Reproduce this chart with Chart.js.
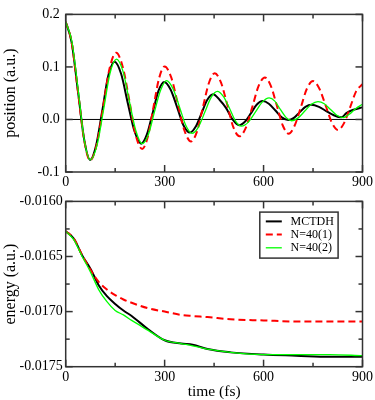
<!DOCTYPE html>
<html>
<head>
<meta charset="utf-8">
<script src="https://cdn.jsdelivr.net/npm/chart.js@4.4.0/dist/chart.umd.min.js"></script>
<style>
body { margin: 0; background: #fff; }
canvas { position: absolute; left: 0; }
#top { top: 0; }
#bot { top: 190px; }
</style>
</head>
<body>
<canvas id="top" width="375" height="190"></canvas>
<canvas id="bot" width="375" height="210"></canvas>
<script>
// position (a.u.) vs time (fs)
const posBlackT = [0,18,37,56,74,92,111,129,148,168,188,209,229,246,264,281,299,318,338,357,377,394,412,429,447,467,486,506,526,544,562,579,597,616,636,655,675,692,710,727,745,768,790,813,836,851,870,900]
const posBlackY = [0.186,0.147,0.055,-0.038,-0.077,-0.050,0.017,0.083,0.110,0.087,0.032,-0.023,-0.046,-0.029,0.013,0.054,0.0715,0.057,0.023,-0.011,-0.025,-0.014,0.012,0.037,0.048,0.037,0.022,0.000,-0.011,-0.004,0.012,0.028,0.035,0.030,0.017,0.004,-0.001,0.003,0.014,0.024,0.028,0.024,0.016,0.008,0.004,0.012,0.018,0.023]
const posRedT = [0,18,37,56,74,94,114,133,153,173,193,212,232,249,266,283,300,320,340,360,380,398,416,434,452,471,490,508,527,546,566,585,604,622,640,658,676,694,713,731,750,769,788,807,826,844,863,881,900]
const posRedY = [0.186,0.147,0.054,-0.039,-0.078,-0.048,0.025,0.097,0.127,0.100,0.036,-0.029,-0.056,-0.033,0.023,0.078,0.101,0.080,0.030,-0.021,-0.042,-0.023,0.023,0.069,0.088,0.070,0.028,-0.014,-0.032,-0.016,0.024,0.064,0.080,0.064,0.027,-0.011,-0.027,-0.012,0.023,0.058,0.073,0.059,0.027,-0.006,-0.020,-0.007,0.024,0.054,0.067]
const posGreenT = [0,19,38,56,75,95,115,134,154,174,193,213,232,251,269,288,306,325,345,364,383,402,422,441,460,478,497,515,533,554,575,596,617,634,651,668,685,705,725,745,765,784,803,822,841,860,880,900]
const posGreenY = [0.186,0.147,0.055,-0.038,-0.077,-0.049,0.019,0.087,0.115,0.091,0.035,-0.022,-0.046,-0.028,0.014,0.056,0.074,0.059,0.024,-0.011,-0.0265,-0.015,0.014,0.042,0.0535,0.044,0.021,-0.003,-0.0126,-0.005,0.014,0.033,0.041,0.035,0.019,0.004,-0.0024,0.003,0.016,0.029,0.034,0.030,0.019,0.008,0.0036,0.010,0.021,0.029]

// energy (a.u.) vs time (fs)
const enT = [0,25,50,75,100,125,150,175,200,250,300,350,385,430,500,600,700,800,900]
const enBlack = [-0.01627,-0.01634,-0.01649,-0.01661,-0.01676,-0.01686,-0.01693,-0.01699,-0.01704,-0.01716,-0.01726,-0.01729,-0.01730,-0.01734,-0.01737,-0.01739,-0.01740,-0.01741,-0.01741]
const enRed = [-0.01627,-0.01634,-0.01649,-0.01662,-0.01673,-0.01680,-0.01685,-0.01689,-0.01692,-0.01697,-0.01700,-0.01703,-0.01704,-0.01705,-0.01707,-0.01708,-0.01709,-0.01709,-0.01709]
const enGreen = [-0.01627,-0.01635,-0.01650,-0.01664,-0.01680,-0.01691,-0.01699,-0.01703,-0.01708,-0.01717,-0.01726,-0.01729,-0.01731,-0.01734,-0.01737,-0.01739,-0.01739,-0.01739,-0.01740]

const labels = ["MCTDH", "N=40(1)", "N=40(2)"]
const xTicks = [0, 300, 600, 900]
const xMinor = [150, 450, 750]
const posTicks = [-0.1, 0, 0.1, 0.2]
const enTicks = [-0.0175, -0.0170, -0.0165, -0.0160]
const enMinor = [-0.01725, -0.01675, -0.01625]

Chart.defaults.font.family = '"Liberation Serif", "DejaVu Serif", serif'
Chart.defaults.color = '#000'
Chart.defaults.animation = false

const pts = (t, y) => t.map((v, i) => ({x: v, y: y[i]}))

const framePlugin = {
    id: 'frame',
    beforeDatasetsDraw(chart, args, opts) {
        if (!opts.zeroLine) return
        const {ctx, chartArea: a, scales} = chart
        const y = scales.y.getPixelForValue(0)
        ctx.save()
        ctx.strokeStyle = '#000'
        ctx.lineWidth = 1
        ctx.beginPath(); ctx.moveTo(a.left, y); ctx.lineTo(a.right, y); ctx.stroke()
        ctx.restore()
    },
    afterDraw(chart, args, opts) {
        const {ctx, chartArea: a, scales} = chart
        ctx.save()
        ctx.strokeStyle = '#333'
        ctx.lineWidth = 1.5
        const line = (x1, y1, x2, y2) => { ctx.beginPath(); ctx.moveTo(x1, y1); ctx.lineTo(x2, y2); ctx.stroke() }
        const xt = (v, len) => {
            const x = scales.x.getPixelForValue(v)
            line(x, a.bottom, x, a.bottom - len); line(x, a.top, x, a.top + len)
        }
        const yt = (v, len) => {
            const y = scales.y.getPixelForValue(v)
            line(a.left, y, a.left + len, y); line(a.right, y, a.right - len, y)
        }
        xTicks.forEach(v => xt(v, 7))
        xMinor.forEach(v => xt(v, 4))
        opts.yTicks.forEach(v => yt(v, 7))
        ;(opts.yMinor || []).forEach(v => yt(v, 4))
        ctx.strokeRect(a.left, a.top, a.right - a.left, a.bottom - a.top)
        ctx.restore()
    }
}

const legendPlugin = {
    id: 'boxLegend',
    afterDraw(chart) {
        const {ctx, chartArea: a} = chart
        const bx = a.right - 102.7, by = a.top + 10.7
        ctx.save()
        ctx.fillStyle = '#fff'
        ctx.fillRect(bx, by, 78.3, 46)
        ctx.strokeStyle = '#333'
        ctx.lineWidth = 1.5
        ctx.strokeRect(bx, by, 78.3, 46)
        ctx.font = '12px "Liberation Serif", serif'
        ctx.textBaseline = 'middle'
        ctx.fillStyle = '#000'
        chart.data.datasets.forEach((ds, i) => {
            const y = by + 9.3 + i * 13.2
            ctx.strokeStyle = ds.borderColor
            ctx.lineWidth = ds.borderWidth
            ctx.setLineDash(ds.borderDash || [])
            ctx.beginPath(); ctx.moveTo(bx + 6, y); ctx.lineTo(bx + 22, y); ctx.stroke()
            ctx.setLineDash([])
            ctx.fillText(ds.label, bx + 30.7, y + 0.5)
        })
        ctx.restore()
    }
}

function sets(b, r, g) {
    return [
        {label: labels[0], data: b, borderColor: '#000', borderWidth: 2, order: 3},
        {label: labels[1], data: r, borderColor: '#ff0000', borderWidth: 2, borderDash: [7, 4], order: 2},
        {label: labels[2], data: g, borderColor: '#00ff00', borderWidth: 1.3, order: 1}
    ]
}

function makeOpts(cfg) {
    return {
        responsive: false,
        layout: {padding: {left: 0, right: 12.3, top: cfg.top, bottom: 0}},
        elements: {point: {radius: 0}, line: {cubicInterpolationMode: 'monotone'}},
        plugins: {legend: {display: false}, tooltip: {enabled: false},
                  frame: {zeroLine: cfg.zeroLine, yTicks: cfg.yTicks, yMinor: cfg.yMinor}},
        scales: {
            x: {
                type: 'linear', min: 0, max: 900,
                grid: {display: false, drawTicks: false}, border: {display: false},
                afterBuildTicks: s => { s.ticks = xTicks.map(v => ({value: v})) },
                afterFit: s => { s.height = cfg.xh },
                ticks: {font: {size: 14}, padding: 2, maxRotation: 0, callback: v => String(v)},
                title: cfg.xTitle ? {display: true, text: cfg.xTitle, font: {size: 15.5, lineHeight: 1}, padding: 0} : {display: false}
            },
            y: {
                type: 'linear', min: cfg.yMin, max: cfg.yMax,
                grid: {display: false, drawTicks: false}, border: {display: false},
                afterBuildTicks: s => { s.ticks = cfg.yTicks.map(v => ({value: v})) },
                afterFit: s => { s.width = 65.7 },
                ticks: {font: {size: 14}, padding: cfg.yPad, callback: v => v.toFixed(cfg.dec)},
                title: {display: true, text: cfg.yTitle, font: {size: 16, lineHeight: 1.2}, padding: {top: 1, bottom: 0}}
            }
        }
    }
}

new Chart(document.getElementById('top'), {
    type: 'line',
    data: {datasets: sets(pts(posBlackT, posBlackY), pts(posRedT, posRedY), pts(posGreenT, posGreenY))},
    options: makeOpts({top: 6, xh: 18, yMin: -0.1, yMax: 0.2, yTicks: posTicks, yMinor: [],
                       dec: 1, yPad: 6, yTitle: 'position (a.u.)', zeroLine: true}),
    plugins: [framePlugin]
})

new Chart(document.getElementById('bot'), {
    type: 'line',
    data: {datasets: sets(pts(enT, enBlack), pts(enT, enRed), pts(enT, enGreen))},
    options: makeOpts({top: 10, xh: 33.3, yMin: -0.0175, yMax: -0.0160, yTicks: enTicks, yMinor: enMinor,
                       dec: 4, yPad: 3, yTitle: 'energy (a.u.)', xTitle: 'time (fs)', zeroLine: false}),
    plugins: [framePlugin, legendPlugin]
})
</script>
</body>
</html>
